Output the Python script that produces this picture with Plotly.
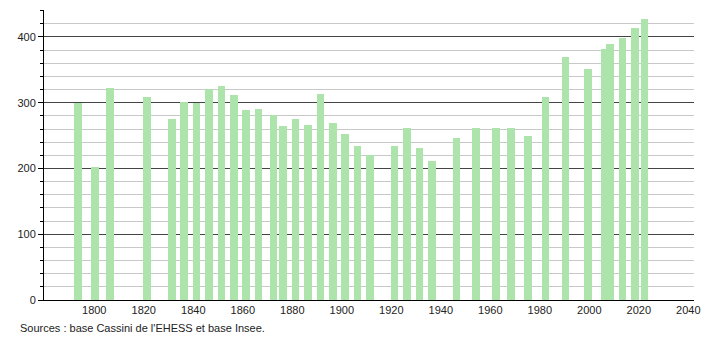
import plotly.graph_objects as go

years = [1793, 1800, 1806, 1821, 1831, 1836, 1841, 1846, 1851, 1856, 1861, 1866,
         1872, 1876, 1881, 1886, 1891, 1896, 1901, 1906, 1911, 1921, 1926, 1931,
         1936, 1946, 1954, 1962, 1968, 1975, 1982, 1990, 1999, 2006, 2008, 2013,
         2018, 2022]
population = [300, 202, 323, 309, 275, 301, 299, 321, 325, 312, 289, 291,
              281, 265, 275, 266, 314, 269, 252, 234, 220, 234, 261, 231,
              211, 246, 261, 261, 262, 249, 309, 369, 351, 381, 390, 398,
              413, 427]
x_ticks = [1800, 1820, 1840, 1860, 1880, 1900, 1920, 1940, 1960, 1980, 2000, 2020, 2040]
y_ticks = [0, 100, 200, 300, 400]
source_text = "Sources : base Cassini de l'EHESS et base Insee."

bar_color = "rgb(172,228,172)"

fig = go.Figure()
fig.add_trace(go.Bar(
    x=years, y=population,
    width=3.1, offset=-1.2,
    marker=dict(color=bar_color, line=dict(width=0)),
    hoverinfo="x+y",
))

fig.update_layout(
    width=710, height=340,
    margin=dict(l=44, r=10, t=10, b=40),
    plot_bgcolor="white", paper_bgcolor="white",
    font=dict(family="Liberation Sans, Arial, sans-serif", size=11, color="#222"),
    showlegend=False,
    bargap=0,
)
fig.update_xaxes(
    range=[1779.7, 2042.3],
    tickvals=x_ticks, ticktext=[str(v) for v in x_ticks],
    showgrid=False, zeroline=False,
    showline=True, linecolor="#000", linewidth=1,
    ticks="", ticklen=0,
    tickfont=dict(size=11, color="#222"),
)
fig.update_yaxes(
    range=[0, 441],
    tickvals=y_ticks, ticktext=[str(v) for v in y_ticks],
    showgrid=True, gridcolor="#444", gridwidth=1,
    zeroline=False,
    showline=True, linecolor="#000", linewidth=1,
    ticks="outside", ticklen=5, tickcolor="#000",
    tickfont=dict(size=11, color="#222"),
    minor=dict(dtick=20, tick0=0, showgrid=True, gridcolor="#c8c8c8", gridwidth=1,
               ticks="outside", ticklen=3, tickcolor="#000"),
    layer="below traces",
)
fig.add_annotation(
    text=source_text, xref="paper", yref="paper",
    x=-0.04, y=-0.0966, xanchor="left", yanchor="middle",
    showarrow=False, font=dict(size=11, color="#222"),
)

fig.write_html("out.html")
